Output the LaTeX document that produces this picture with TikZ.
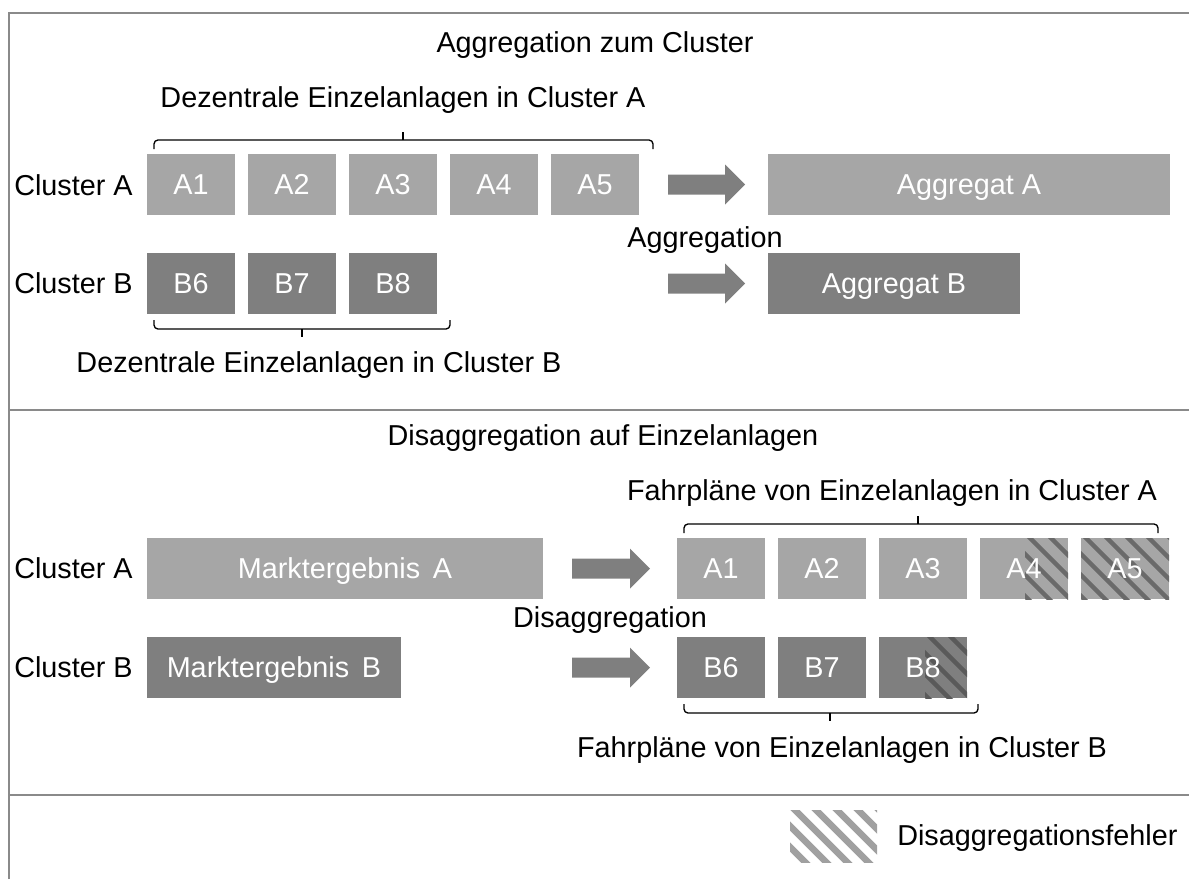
\documentclass[tikz,border=0pt]{standalone}
\usepackage{fontspec}
\setmainfont{Liberation Sans}
\definecolor{boxlight}{HTML}{A6A6A6}
\definecolor{boxdark}{HTML}{7F7F7F}
\definecolor{framegray}{HTML}{8A8A8A}
\definecolor{arrowgray}{HTML}{7F7F7F}
\definecolor{hatchA}{HTML}{6A6A6A}
\definecolor{hatchB}{HTML}{5A5A5A}
\definecolor{hatchL}{HTML}{A0A0A0}
\newcommand{\mainfs}{\fontsize{21.6}{26}\selectfont}
\newcommand{\stripes}[6]{%
  \begin{scope}
    \clip (#1,#2) rectangle (#3,#4);
    \foreach \s in {-84,-63,...,126} \draw[#5, line width=#6] (#1+\s,#2-5) -- ++(80,80);
  \end{scope}}
\newcommand{\blockarrow}[3]{%
  \fill[arrowgray] (#1,#3-10) -- (#2-20,#3-10) -- (#2-20,#3-20) -- (#2,#3) -- (#2-20,#3+20) -- (#2-20,#3+10) -- (#1,#3+10) -- cycle;}
\begin{document}
\begin{tikzpicture}[x=0.75pt,y=-0.75pt,
  frame/.style={draw=framegray, line width=1.5pt},
  lbl/.style={inner sep=0pt, font=\mainfs, text=black},
  tile/.style={fill=#1, text=white, inner sep=0pt, outer sep=0pt, anchor=north west,
    minimum height=45.75pt, font=\mainfs, text height=15.5pt, text depth=0pt},
  tiletext/.style={text=white, font=\mainfs, inner sep=0pt, text height=15.5pt, text depth=0pt},
  small/.style={minimum width=66pt},
  bracket/.style={draw=black, line width=1pt, rounded corners=3pt}]
\useasboundingbox (0,0) rectangle (1189,879);
% frame
\draw[frame] (9,879) -- (9,13) -- (1189,13);
\draw[frame] (9,410) -- (1189,410);
\draw[frame] (9,795) -- (1189,795);

% ---------- section 1 ----------
\node[lbl] (title1) at (595,45) {Aggregation zum Cluster};
\node[lbl] (dezA) at (403,100) {Dezentrale Einzelanlagen in Cluster A};
\node[lbl, anchor=west] (clA1) at (14,185) {Cluster A};
\node[lbl, anchor=west] (clB1) at (14,283) {Cluster B};

\node[tile=boxlight, small] (ta1) at (147,154) {A1};
\node[tile=boxlight, small] (ta2) at (248,154) {A2};
\node[tile=boxlight, small] (ta3) at (349,154) {A3};
\node[tile=boxlight, small] (ta4) at (450,154) {A4};
\node[tile=boxlight, small] (ta5) at (551,154) {A5};
\node[tile=boxlight, minimum width=301.5pt] (aggA) at (768,154) {Aggregat A};

\node[tile=boxdark, small] (tb6) at (147,253) {B6};
\node[tile=boxdark, small] (tb7) at (248,253) {B7};
\node[tile=boxdark, small] (tb8) at (349,253) {B8};
\node[tile=boxdark, minimum width=189pt] (aggB) at (768,253) {Aggregat B};

\blockarrow{668}{745}{184.5}
\blockarrow{668}{745}{283.5}
\node[lbl] (aggr) at (705,240) {Aggregation};

\draw[bracket] (154,149) -- (154,140) -- (653,140) -- (653,149);
\draw[black, line width=1pt] (403,140) -- (403,132);
\draw[bracket] (154,320) -- (154,329) -- (450,329) -- (450,320);
\draw[black, line width=1pt] (302,329) -- (302,337);
\node[lbl] (dezB) at (319,365) {Dezentrale Einzelanlagen in Cluster B};

% ---------- section 2 ----------
\node[lbl] (title2) at (603,438) {Disaggregation auf Einzelanlagen};
\node[lbl] (fpA) at (892,493) {Fahrpläne von Einzelanlagen in Cluster A};
\node[lbl, anchor=west] (clA2) at (14,568) {Cluster A};
\node[lbl, anchor=west] (clB2) at (14,667) {Cluster B};

\node[tile=boxlight, minimum width=297pt] (mA) at (147,538) {Marktergebnis\, A};
\node[tile=boxdark, minimum width=190.5pt] (mB) at (147,637) {Marktergebnis\, B};

\node[tile=boxlight, small] (sa1) at (677,538) {};
\node[tile=boxlight, small] (sa2) at (778,538) {};
\node[tile=boxlight, small] (sa3) at (879,538) {};
\node[tile=boxlight, small] (sa4) at (980,538) {};
\node[tile=boxlight, small] (sa5) at (1081,538) {};
\stripes{1025}{538}{1068}{599}{hatchA}{3.4pt}
\stripes{1081}{538}{1169}{599}{hatchA}{3.4pt}
\node[tiletext] at (sa1.center) {A1};
\node[tiletext] at (sa2.center) {A2};
\node[tiletext] at (sa3.center) {A3};
\node[tiletext] at (sa4.center) {A4};
\node[tiletext] at (sa5.center) {A5};

\node[tile=boxdark, small] (sb6) at (677,637) {};
\node[tile=boxdark, small] (sb7) at (778,637) {};
\node[tile=boxdark, small] (sb8) at (879,637) {};
\stripes{925}{637}{967}{698}{hatchB}{3.4pt}
\node[tiletext] at (sb6.center) {B6};
\node[tiletext] at (sb7.center) {B7};
\node[tiletext] at (sb8.center) {B8};

\blockarrow{572}{650}{568.5}
\blockarrow{572}{650}{667.5}
\node[lbl] (disaggr) at (610,620) {Disaggregation};

\draw[bracket] (684,533) -- (684,524) -- (1158,524) -- (1158,533);
\draw[black, line width=1pt] (918,524) -- (918,516);
\draw[bracket] (684,704) -- (684,713) -- (978,713) -- (978,704);
\draw[black, line width=1pt] (830,713) -- (830,721);
\node[lbl] (fpB) at (842,750) {Fahrpläne von Einzelanlagen in Cluster B};

% ---------- legend ----------
\node[inner sep=0pt, outer sep=0pt, anchor=north west, minimum width=65.25pt, minimum height=39pt] (leg) at (790,810) {};
\stripes{790}{810}{877}{862}{hatchL}{5pt}
\node[lbl, anchor=west] (legtxt) at (897,838) {Disaggregationsfehler};
\end{tikzpicture}
\end{document}
